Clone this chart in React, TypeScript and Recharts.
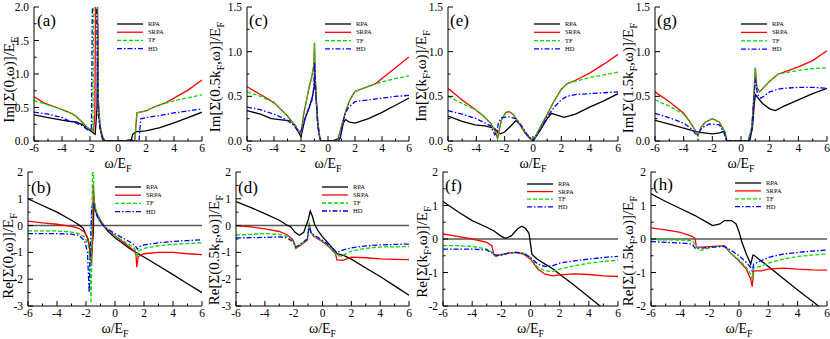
import React from 'react';
import { LineChart, Line, XAxis, YAxis, ReferenceLine } from 'recharts';

type P = [number, number][];

// ---------- ticks ----------
const xTicks = [-6, -5, -4, -3, -2, -1, 0, 1, 2, 3, 4, 5, 6];
const imTicks20 = [0, 0.25, 0.5, 0.75, 1, 1.25, 1.5, 1.75, 2];
const imTicks15 = [0, 0.25, 0.5, 0.75, 1, 1.25, 1.5];
const reTicks3 = [-3, -2.5, -2, -1.5, -1, -0.5, 0, 0.5, 1, 1.5, 2];
const reTicks2 = [-2, -1.5, -1, -0.5, 0, 0.5, 1, 1.5, 2];
const seriesNames = ['RPA', 'SRPA', 'TF', 'HD'];

// ---------- (a) Im Sigma(0,w) ----------
const aRPA: P = [[-6,0.39],[-5,0.35],[-4,0.31],[-3.5,0.295],[-3,0.285],[-2.5,0.24],[-2.1,0.17],[-1.63,0.1],[-1.5,0.5],[-1.45,1.75],[-1.4,0.6],[-1.3,0.2],[-1.1,0.02],[-0.95,0],[0,0],[0.6,0.01],[0.95,0.02],[1.05,0.1],[1.3,0.14],[2,0.15],[3,0.2],[4,0.27],[5,0.35],[6,0.43]];
const aSRPA: P = [[-6,0.66],[-5.3,0.57],[-4,0.47],[-3.3,0.41],[-3,0.37],[-2.6,0.29],[-2.2,0.2],[-1.75,0.15],[-1.65,0.4],[-1.6,2.3],[-1.47,2.3],[-1.4,0.5],[-1.25,0.2],[-1.05,0.02],[-0.9,0],[1.2,0],[1.35,0.42],[2,0.45],[2.5,0.5],[3,0.54],[3.3,0.56],[4,0.64],[5,0.76],[6,0.91]];
const aTF: P = [[-6,0.6],[-5.3,0.56],[-4,0.47],[-3.3,0.41],[-3,0.37],[-2.6,0.29],[-2.2,0.2],[-1.8,0.16],[-1.72,2.3],[-1.52,2.3],[-1.4,0.5],[-1.25,0.2],[-1.05,0.02],[-0.9,0],[1.2,0],[1.35,0.42],[2,0.45],[2.5,0.5],[3,0.54],[3.3,0.56],[4,0.6],[5,0.645],[6,0.69]];
const aHD: P = [[-6,0.43],[-5,0.4],[-4,0.35],[-3.5,0.3],[-3,0.27],[-2.5,0.22],[-2.2,0.17],[-1.9,0.15],[-1.82,2.3],[-1.55,2.3],[-1.42,0.4],[-1.25,0.15],[-1.05,0.02],[-0.9,0],[1.5,0],[1.62,0.33],[2,0.35],[3,0.38],[4,0.42],[5,0.45],[6,0.48]];

// ---------- (c) Im Sigma(0.5kF,w) ----------
const cRPA: P = [[-6,0.34],[-5,0.3],[-4.2,0.25],[-3.1,0.23],[-2.7,0.22],[-2.4,0.17],[-2.2,0.1],[-2.0,0.05],[-1.7,0.25],[-1.4,0.37],[-1.15,0.5],[-1.02,0.6],[-0.97,0.8],[-0.9,0.55],[-0.75,0.2],[-0.6,0.03],[-0.5,0],[0.3,0],[0.7,0.02],[0.9,0.03],[1.0,0.1],[1.13,0.2],[1.3,0.24],[1.6,0.21],[2.0,0.2],[3,0.25],[4,0.32],[5,0.4],[6,0.48]];
const cSRPA: P = [[-6,0.61],[-5.7,0.58],[-5,0.52],[-4,0.43],[-3,0.28],[-2.5,0.18],[-2.2,0.12],[-2.0,0.08],[-1.8,0.3],[-1.6,0.45],[-1.4,0.6],[-1.2,0.72],[-1.05,0.85],[-1.0,1.1],[-0.95,0.7],[-0.8,0.25],[-0.6,0.02],[-0.5,0],[0.7,0],[0.85,0.08],[1.1,0.22],[1.35,0.35],[1.6,0.45],[1.85,0.52],[2,0.555],[3.5,0.64],[4,0.7],[5,0.82],[6,0.94]];
const cTF: P = [[-6,0.55],[-5,0.5],[-4,0.43],[-3,0.28],[-2.5,0.18],[-2.2,0.12],[-2.0,0.08],[-1.8,0.3],[-1.6,0.45],[-1.4,0.6],[-1.2,0.72],[-1.05,0.85],[-1.0,1.1],[-0.95,0.7],[-0.8,0.25],[-0.6,0.02],[-0.5,0],[0.7,0],[0.85,0.08],[1.1,0.22],[1.35,0.35],[1.6,0.45],[1.85,0.52],[2,0.555],[3.5,0.64],[4,0.66],[5,0.7],[6,0.73]];
const cHD: P = [[-6,0.38],[-5,0.35],[-4,0.3],[-3.45,0.265],[-3,0.23],[-2.5,0.17],[-2.1,0.08],[-1.9,0.15],[-1.6,0.3],[-1.2,0.45],[-1.05,0.6],[-1.0,0.88],[-0.93,0.6],[-0.75,0.15],[-0.55,0],[0.8,0],[0.9,0.05],[1.1,0.2],[1.25,0.3],[1.5,0.37],[1.85,0.42],[2,0.44],[3,0.46],[4,0.48],[5,0.5],[6,0.51]];

// ---------- (e) Im Sigma(kF,w) ----------
const eRPA: P = [[-6,0.28],[-5,0.22],[-4.1,0.18],[-3.4,0.17],[-2.7,0.14],[-2.45,0.09],[-2.3,0.08],[-2.0,0.1],[-1.5,0.18],[-1.2,0.23],[-0.9,0.18],[-0.5,0.08],[0,0],[0.5,0.12],[1.0,0.25],[1.3,0.31],[1.7,0.29],[2.2,0.265],[3,0.3],[4,0.38],[5,0.45],[6,0.53]];
const eSRPA: P = [[-6,0.59],[-5,0.46],[-4,0.345],[-3.5,0.28],[-3,0.2],[-2.7,0.12],[-2.5,0.03],[-2.35,0.15],[-2.2,0.25],[-1.9,0.32],[-1.7,0.33],[-1.4,0.3],[-1.0,0.2],[-0.6,0.1],[-0.3,0.04],[0,0],[0.5,0.15],[1,0.3],[1.5,0.45],[2,0.58],[2.4,0.64],[3,0.68],[4,0.76],[5,0.86],[6,0.97]];
const eTF: P = [[-6,0.5],[-5,0.42],[-4,0.345],[-3.5,0.28],[-3,0.2],[-2.7,0.12],[-2.5,0.03],[-2.35,0.15],[-2.2,0.25],[-1.9,0.32],[-1.7,0.33],[-1.4,0.3],[-1.0,0.2],[-0.6,0.1],[-0.3,0.04],[0,0],[0.5,0.15],[1,0.3],[1.5,0.45],[2,0.58],[2.4,0.64],[3,0.67],[4,0.71],[5,0.74],[6,0.77]];
const eHD: P = [[-6,0.34],[-5,0.3],[-4,0.25],[-3,0.17],[-2.7,0.07],[-2.55,0.1],[-2.45,0.2],[-2.2,0.26],[-1.7,0.27],[-1.2,0.25],[-0.8,0.17],[-0.4,0.07],[0,0],[0.5,0.12],[1,0.27],[1.5,0.38],[2,0.46],[2.4,0.5],[3,0.52],[4,0.53],[5,0.54],[6,0.55]];

// ---------- (g) Im Sigma(1.5kF,w) ----------
const gRPA: P = [[-6,0.23],[-5,0.19],[-4,0.145],[-3,0.1],[-2,0.08],[-1.5,0.09],[-1.15,0.11],[-1.05,0.05],[-1.0,0],[0.6,0],[0.8,0.15],[0.92,0.4],[1.0,0.52],[1.5,0.42],[2,0.36],[2.4,0.34],[3,0.39],[4,0.46],[5,0.53],[6,0.59]];
const gSRPA: P = [[-6,0.55],[-5,0.44],[-4,0.31],[-3.5,0.2],[-3.2,0.12],[-3.0,0.06],[-2.8,0.15],[-2.5,0.21],[-2.0,0.25],[-1.5,0.21],[-1.2,0.12],[-1.0,0],[0.5,0],[0.75,0.15],[0.9,0.5],[1.0,0.82],[1.1,0.6],[1.3,0.55],[2,0.67],[2.6,0.75],[3,0.77],[4,0.83],[5,0.9],[6,1.01]];
const gTF: P = [[-6,0.46],[-5,0.39],[-4,0.3],[-3.5,0.2],[-3.2,0.12],[-3.0,0.06],[-2.8,0.15],[-2.5,0.21],[-2.0,0.25],[-1.5,0.21],[-1.2,0.12],[-1.0,0],[0.5,0],[0.75,0.15],[0.9,0.5],[1.0,0.82],[1.1,0.6],[1.3,0.55],[2,0.67],[2.6,0.75],[3,0.76],[4,0.79],[5,0.81],[6,0.82]];
const gHD: P = [[-6,0.31],[-5,0.26],[-4,0.2],[-3.4,0.13],[-3.1,0.06],[-2.7,0.15],[-2.2,0.19],[-1.5,0.18],[-1.2,0.1],[-1.0,0],[0.55,0],[0.75,0.12],[0.9,0.45],[1.0,0.7],[1.15,0.52],[1.4,0.48],[2,0.55],[2.6,0.58],[3,0.59],[4,0.6],[5,0.6],[6,0.59]];

// ---------- (b) Re Sigma(0,w) ----------
const bRPA: P = [[-6,1.0],[-5,0.75],[-4,0.5],[-3,0.2],[-2.5,0.03],[-2.2,-0.1],[-1.9,-0.45],[-1.75,-0.8],[-1.65,-1.25],[-1.5,-0.3],[-1.45,1.0],[-1.35,0.6],[-1.2,0.35],[-1.0,0.15],[-0.8,0.0],[-0.5,-0.2],[0,-0.45],[0.5,-0.65],[1.0,-0.85],[1.5,-1.02],[2,-1.17],[3,-1.5],[4,-1.83],[5,-2.17],[6,-2.5]];
const bSRPA: P = [[-6,0.17],[-5,0.1],[-4,0.05],[-3,-0.03],[-2.5,-0.1],[-2.1,-0.25],[-1.85,-0.5],[-1.72,-1.0],[-1.62,-1.5],[-1.55,-0.5],[-1.5,1.5],[-1.42,0.8],[-1.3,0.5],[-1.0,0.2],[-0.7,-0.05],[-0.3,-0.25],[0,-0.38],[0.5,-0.58],[1.0,-0.8],[1.35,-0.95],[1.45,-1.1],[1.5,-1.55],[1.6,-1.15],[2,-1.05],[3,-1.0],[4,-1.0],[5,-1.05],[6,-1.08]];
const bTF: P = [[-6,-0.2],[-4,-0.2],[-3,-0.24],[-2.5,-0.3],[-2.1,-0.42],[-1.85,-0.7],[-1.75,-1.2],[-1.65,-2.9],[-1.6,-1.0],[-1.55,2.3],[-1.5,2.3],[-1.45,1.0],[-1.3,0.55],[-1.0,0.18],[-0.7,-0.05],[-0.3,-0.25],[0,-0.38],[0.5,-0.55],[1.0,-0.72],[1.35,-0.85],[1.45,-1.0],[1.5,-1.2],[1.6,-0.95],[2,-0.85],[3,-0.75],[4,-0.7],[5,-0.67],[6,-0.64]];
const bHD: P = [[-6,-0.3],[-4,-0.3],[-3,-0.32],[-2.5,-0.37],[-2.1,-0.55],[-1.9,-1.0],[-1.78,-2.5],[-1.7,-0.8],[-1.6,0.75],[-1.5,0.8],[-1.4,0.6],[-1.2,0.3],[-1.0,0.12],[-0.6,-0.1],[0,-0.3],[0.5,-0.45],[1.0,-0.6],[1.4,-0.75],[1.55,-0.88],[1.7,-0.78],[2,-0.72],[3,-0.64],[4,-0.59],[5,-0.56],[6,-0.53]];

// ---------- (d) Re Sigma(0.5kF,w) ----------
const dRPA: P = [[-6,0.9],[-5,0.68],[-4,0.45],[-3,0.2],[-2.5,0.03],[-2.2,-0.05],[-1.9,-0.25],[-1.6,-0.36],[-1.3,-0.25],[-1.0,0.2],[-0.85,0.54],[-0.7,0.35],[-0.55,0.05],[-0.3,-0.2],[0,-0.42],[0.5,-0.72],[1.0,-1.05],[1.5,-1.12],[2,-1.25],[3,-1.58],[4,-1.9],[5,-2.25],[6,-2.6]];
const dSRPA: P = [[-6,0.0],[-5,-0.05],[-4,-0.12],[-3,-0.22],[-2.5,-0.33],[-2.1,-0.5],[-1.95,-0.65],[-1.85,-0.85],[-1.5,-0.72],[-1.05,-0.54],[-0.92,0.06],[-0.8,-0.25],[-0.6,-0.4],[0,-0.6],[0.5,-0.82],[0.9,-1.05],[1.0,-1.28],[1.4,-1.3],[2,-1.18],[3,-1.2],[4,-1.24],[5,-1.26],[6,-1.27]];
const dTF: P = [[-6,-0.35],[-5,-0.33],[-4,-0.3],[-3,-0.33],[-2.5,-0.4],[-2.1,-0.55],[-1.95,-0.7],[-1.85,-0.85],[-1.5,-0.7],[-1.05,-0.5],[-0.92,0.12],[-0.8,-0.25],[-0.6,-0.38],[0,-0.58],[0.5,-0.8],[1.0,-1.1],[1.3,-1.15],[2,-0.95],[3,-0.85],[4,-0.8],[5,-0.79],[6,-0.78]];
const dHD: P = [[-6,-0.46],[-5,-0.45],[-4,-0.44],[-3,-0.42],[-2.5,-0.45],[-2.1,-0.58],[-1.95,-0.7],[-1.85,-0.8],[-1.5,-0.68],[-1.05,-0.5],[-0.92,0.0],[-0.8,-0.25],[-0.6,-0.35],[0,-0.55],[0.5,-0.75],[1.0,-1.0],[1.5,-0.9],[2,-0.83],[3,-0.76],[4,-0.72],[5,-0.7],[6,-0.69]];

// ---------- (f) Re Sigma(kF,w) ----------
const fRPA: P = [[-6,1.12],[-5,0.82],[-4,0.55],[-3,0.35],[-2.5,0.24],[-2.0,0.08],[-1.7,0.02],[-1.3,0.1],[-0.9,0.3],[-0.6,0.38],[-0.35,0.32],[-0.1,0.17],[0.1,-0.46],[0.45,-0.6],[1,-0.75],[1.5,-0.88],[2,-1.05],[3,-1.38],[4,-1.73],[5,-2.08],[6,-2.43]];
const fSRPA: P = [[-6,0.15],[-5,0.08],[-4,0.0],[-3,-0.1],[-2.65,-0.2],[-2.5,-0.48],[-2.0,-0.47],[-1.5,-0.42],[-1.0,-0.4],[-0.5,-0.45],[0,-0.6],[0.5,-0.9],[1,-1.05],[1.5,-1.1],[2,-1.07],[3,-1.04],[4,-1.06],[5,-1.1],[6,-1.12]];
const fTF: P = [[-6,-0.2],[-5,-0.2],[-4,-0.22],[-3,-0.3],[-2.6,-0.4],[-2.4,-0.52],[-2.0,-0.48],[-1.5,-0.42],[-1.0,-0.4],[-0.5,-0.42],[0,-0.55],[0.5,-0.85],[1,-0.95],[1.5,-0.97],[2,-0.9],[3,-0.8],[4,-0.72],[5,-0.67],[6,-0.63]];
const fHD: P = [[-6,-0.3],[-5,-0.3],[-4,-0.3],[-3,-0.33],[-2.5,-0.45],[-2.3,-0.5],[-2.0,-0.47],[-1.5,-0.42],[-1.0,-0.4],[-0.5,-0.42],[0,-0.55],[0.5,-0.75],[1,-0.82],[1.5,-0.8],[2,-0.72],[3,-0.65],[4,-0.6],[5,-0.55],[6,-0.52]];

// ---------- (h) Re Sigma(1.5kF,w) ----------
const hRPA: P = [[-6,1.35],[-5,1.12],[-4,0.91],[-3,0.7],[-2,0.45],[-1.8,0.4],[-1.3,0.45],[-1.0,0.55],[-0.5,0.55],[-0.2,0.45],[0,0.22],[0.2,-0.1],[0.5,-0.45],[0.8,-0.75],[0.95,-0.48],[1,-0.48],[2,-0.82],[3,-1.17],[4,-1.52],[5,-1.86],[6,-2.2]];
const hSRPA: P = [[-6,0.33],[-5,0.27],[-4,0.2],[-3.2,0.08],[-3.0,0.02],[-2.9,-0.25],[-2.0,-0.23],[-1.0,-0.2],[-0.5,-0.45],[0,-0.65],[0.5,-0.9],[0.8,-1.2],[0.9,-1.42],[1.0,-0.95],[1.5,-0.95],[2,-0.9],[3,-0.87],[4,-0.9],[5,-0.92],[6,-0.93]];
const hTF: P = [[-6,-0.02],[-4,-0.03],[-3.2,-0.05],[-3.0,-0.15],[-2.7,-0.35],[-2.3,-0.3],[-1.5,-0.22],[-1.0,-0.22],[-0.5,-0.45],[0,-0.62],[0.5,-0.85],[0.8,-1.05],[0.9,-1.2],[1.0,-0.85],[1.5,-0.82],[2,-0.72],[3,-0.6],[4,-0.52],[5,-0.48],[6,-0.45]];
const hHD: P = [[-6,-0.08],[-4,-0.12],[-3.2,-0.15],[-3.0,-0.27],[-2.5,-0.27],[-2.0,-0.25],[-1.0,-0.22],[-0.5,-0.35],[0,-0.5],[0.5,-0.7],[0.8,-0.85],[0.9,-0.95],[1.0,-0.75],[1.5,-0.65],[2,-0.55],[3,-0.45],[4,-0.4],[5,-0.36],[6,-0.33]];

// ---------- styling ----------
const FONT = '"Liberation Serif", "Times New Roman", serif';
const COLORS = ['#000000', '#ff0000', '#00dd00', '#0000ff'];
const DASHES: (string | undefined)[] = [undefined, undefined, '4 2', '5 2 1.5 2'];

type Part = { t: string; sub?: boolean };
const sub = (t: string): Part => ({ t, sub: true });
const txt = (t: string): Part => ({ t });

type Cfg = {
  label: string; px: number; py: number; pw: number; ph: number;
  domain: [number, number]; yTicks: number[]; im: boolean;
  series: P[]; ylab: Part[]; ylx: number; yly: number; xlb: number;
  leg: [number, number]; legGap: number; plab: [number, number];
};

const TOP_Y = 7, TOP_H = 134, BOT_Y = 172, BOT_H = 134;

const panels: Cfg[] = [
  { label: '(a)', px: 34, py: TOP_Y, pw: 168, ph: TOP_H, domain: [0, 2], yTicks: imTicks20, im: true, series: [aRPA, aSRPA, aTF, aHD],
    ylab: [txt('Im[Σ(0,ω)]/E'), sub('F')], ylx: 9, yly: 80, xlb: 167.5, leg: [117, 24], legGap: 8.2, plab: [37, 26] },
  { label: '(c)', px: 247, py: TOP_Y, pw: 162, ph: TOP_H, domain: [0, 1.5], yTicks: imTicks15, im: true, series: [cRPA, cSRPA, cTF, cHD],
    ylab: [txt('Im[Σ(0.5k'), sub('F'), txt(',ω)]/E'), sub('F')], ylx: 215, yly: 77, xlb: 167.5, leg: [325, 24], legGap: 8.3, plab: [249, 26] },
  { label: '(e)', px: 448, py: TOP_Y, pw: 170, ph: TOP_H, domain: [0, 1.5], yTicks: imTicks15, im: true, series: [eRPA, eSRPA, eTF, eHD],
    ylab: [txt('Im[Σ(k'), sub('F'), txt(',ω)]/E'), sub('F')], ylx: 421, yly: 76, xlb: 167.5, leg: [534, 24], legGap: 8.3, plab: [450, 26] },
  { label: '(g)', px: 655, py: TOP_Y, pw: 172, ph: TOP_H, domain: [0, 1.5], yTicks: imTicks15, im: true, series: [gRPA, gSRPA, gTF, gHD],
    ylab: [txt('Im[Σ(1.5k'), sub('F'), txt(',ω)]/E'), sub('F')], ylx: 628, yly: 78, xlb: 167.5, leg: [741, 24], legGap: 8.4, plab: [657, 26] },
  { label: '(b)', px: 28, py: BOT_Y, pw: 174, ph: BOT_H, domain: [-3, 2], yTicks: reTicks3, im: false, series: [bRPA, bSRPA, bTF, bHD],
    ylab: [txt('Re[Σ(0,ω)]/E'), sub('F')], ylx: 8, yly: 256, xlb: 332.5, leg: [115, 187], legGap: 8.2, plab: [31, 193] },
  { label: '(d)', px: 236, py: BOT_Y, pw: 173, ph: BOT_H, domain: [-3, 2], yTicks: reTicks3, im: false, series: [dRPA, dSRPA, dTF, dHD],
    ylab: [txt('Re[Σ(0.5k'), sub('F'), txt(',ω)]/E'), sub('F')], ylx: 214, yly: 250, xlb: 332.5, leg: [322, 187], legGap: 8.0, plab: [238, 193] },
  { label: '(f)', px: 443, py: BOT_Y, pw: 175, ph: BOT_H, domain: [-2, 2], yTicks: reTicks2, im: false, series: [fRPA, fSRPA, fTF, fHD],
    ylab: [txt('Re[Σ(k'), sub('F'), txt(',ω)]/E'), sub('F')], ylx: 422, yly: 252, xlb: 332.5, leg: [527, 184], legGap: 7.6, plab: [445, 191] },
  { label: '(h)', px: 651, py: BOT_Y, pw: 176, ph: BOT_H, domain: [-2, 2], yTicks: reTicks2, im: false, series: [hRPA, hSRPA, hTF, hHD],
    ylab: [txt('Re[Σ(1.5k'), sub('F'), txt(',ω)]/E'), sub('F')], ylx: 628, yly: 251, xlb: 332.5, leg: [735, 183], legGap: 7.9, plab: [653, 190] },
];

function rich(parts: Part[], fs: number) {
  let down = false;
  return parts.map((p, i) => {
    let dy = 0;
    if (p.sub && !down) { dy = fs * 0.3; down = true; }
    else if (!p.sub && down) { dy = -fs * 0.3; down = false; }
    return (
      <tspan key={i} dy={dy} fontSize={p.sub ? fs * 0.7 : fs}>{p.t}</tspan>
    );
  });
}

const MAJ = 5, MIN = 2.5;
const isMajorX = (v: number) => Math.abs(v % 2) < 1e-6;

function Panel({ c }: { c: Cfg }) {
  const ML = 40, MR = 6, MT = 8, MB = 22;
  const w = c.pw + ML + MR;
  const h = c.ph + MT + MB;
  const isMajorY = (v: number) => c.im ? Math.abs(v * 2 - Math.round(v * 2)) < 1e-6 : Math.abs(v - Math.round(v)) < 1e-6;
  const fmtY = (v: number) => c.im ? v.toFixed(1) : String(v);

  const bottomTick = (p: any) => {
    const v = p.payload.value; const m = isMajorX(v);
    return (
      <g>
        <line x1={p.x} y1={p.y} x2={p.x} y2={p.y - (m ? MAJ : MIN)} stroke="#000" strokeWidth={1} />
        {m && <text x={p.x} y={p.y + 11} textAnchor="middle" fontFamily={FONT} fontSize={11.5} fill="#000">{String(v)}</text>}
      </g>
    );
  };
  const topTick = (p: any) => {
    const m = isMajorX(p.payload.value);
    return <line x1={p.x} y1={p.y} x2={p.x} y2={p.y + (m ? MAJ : MIN)} stroke="#000" strokeWidth={1} />;
  };
  const leftTick = (p: any) => {
    const v = p.payload.value; const m = isMajorY(v);
    return (
      <g>
        <line x1={p.x} y1={p.y} x2={p.x + (m ? MAJ : MIN)} y2={p.y} stroke="#000" strokeWidth={1} />
        {m && <text x={p.x - 5} y={p.y + 4} textAnchor="end" fontFamily={FONT} fontSize={11.5} fill="#000">{fmtY(v)}</text>}
      </g>
    );
  };
  const rightTick = (p: any) => {
    const m = isMajorY(p.payload.value);
    return <line x1={p.x} y1={p.y} x2={p.x - (m ? MAJ : MIN)} y2={p.y} stroke="#000" strokeWidth={1} />;
  };

  return (
    <div style={{ position: 'absolute', left: c.px - ML, top: c.py - MT }}>
      <LineChart width={w} height={h} margin={{ top: MT, right: MR, bottom: 0, left: 0 }}>
        <XAxis xAxisId="b" dataKey="x" type="number" domain={[-6, 6]} ticks={xTicks} interval={0} height={MB}
          tickSize={0} tickMargin={0} tickLine={false} axisLine={{ stroke: '#000', strokeWidth: 1 }} tick={bottomTick} allowDataOverflow />
        <XAxis xAxisId="t" orientation="top" dataKey="x" type="number" domain={[-6, 6]} ticks={xTicks} interval={0} height={0}
          tickSize={0} tickMargin={0} tickLine={false} axisLine={{ stroke: '#000', strokeWidth: 1 }} tick={topTick} allowDataOverflow />
        <YAxis yAxisId="l" type="number" domain={c.domain} ticks={c.yTicks} interval={0} width={ML}
          tickSize={0} tickMargin={0} tickLine={false} axisLine={{ stroke: '#000', strokeWidth: 1 }} tick={leftTick} allowDataOverflow />
        <YAxis yAxisId="r" orientation="right" type="number" domain={c.domain} ticks={c.yTicks} interval={0} width={0}
          tickSize={0} tickMargin={0} tickLine={false} axisLine={{ stroke: '#000', strokeWidth: 1 }} tick={rightTick} allowDataOverflow />
        {!c.im && <ReferenceLine xAxisId="b" yAxisId="l" y={0} stroke="#555" strokeWidth={1.5} />}
        {c.series.map((s, i) => (
          <Line key={seriesNames[i]} xAxisId="b" yAxisId="l" data={s.map(([x, y]) => ({ x, y }))} dataKey="y" type="linear"
            stroke={COLORS[i]} strokeWidth={1.3} strokeDasharray={DASHES[i]} dot={false} activeDot={false} isAnimationActive={false} />
        ))}
      </LineChart>
    </div>
  );
}

export default function App() {
  return (
    <div style={{ position: 'absolute', left: 0, top: 0, width: 830, height: 339, background: '#fff', overflow: 'hidden' }}>
      {panels.map((c) => <Panel key={c.label} c={c} />)}
      <svg width={830} height={339} style={{ position: 'absolute', left: 0, top: 0, pointerEvents: 'none' }}>
        {panels.map((c) => (
          <g key={c.label} fontFamily={FONT} fill="#000">
            <text x={c.plab[0]} y={c.plab[1]} fontSize={17}>{c.label}</text>
            <text x={c.ylx} y={c.yly} textAnchor="middle" dominantBaseline="central" transform={`rotate(-90 ${c.ylx} ${c.yly})`}>
              {rich(c.ylab, 15)}
            </text>
            <text x={c.px + c.pw / 2} y={c.xlb} textAnchor="middle">{rich([txt('ω/E'), sub('F')], 14)}</text>
            {seriesNames.map((n, i) => {
              const y = c.leg[1] + i * c.legGap;
              return (
                <g key={n}>
                  <line x1={c.leg[0]} y1={y} x2={c.leg[0] + 26} y2={y} stroke={COLORS[i]} strokeWidth={1.3} strokeDasharray={DASHES[i]} />
                  <text x={c.leg[0] + 31} y={y + 2} fontSize={6.5}>{n}</text>
                </g>
              );
            })}
          </g>
        ))}
      </svg>
    </div>
  );
}
